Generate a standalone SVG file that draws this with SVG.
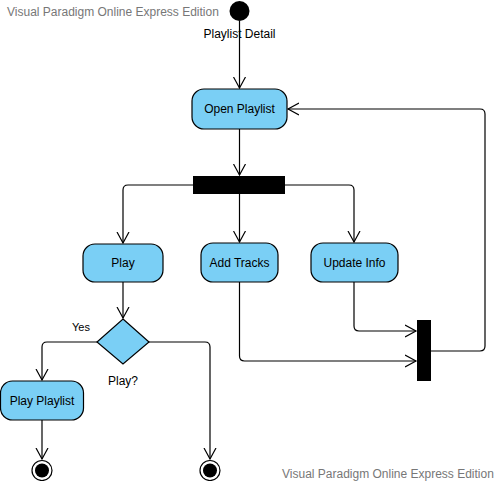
<svg xmlns="http://www.w3.org/2000/svg" width="499" height="481" viewBox="0 0 499 481">
<style>
.act{fill:#7ACFF5;stroke:#000;stroke-width:1.2}
.lbl{font-family:"Liberation Sans",Arial,sans-serif;font-size:12px;fill:#000;text-anchor:middle}
.wm{font-family:"Liberation Sans",Arial,sans-serif;font-size:12px;fill:#777}
.con{fill:none;stroke:#000;stroke-width:1.2}
.bar{fill:#000}
</style>
<defs>
<marker id="arr" markerUnits="userSpaceOnUse" markerWidth="14" markerHeight="14" refX="11" refY="6" orient="auto" viewBox="0 0 14 12">
<path d="M0,0 L11,6 L0,12" fill="none" stroke="#000" stroke-width="1.2"/>
</marker>
</defs>
<rect width="499" height="481" fill="#fff"/>
<text class="wm" x="7" y="16">Visual Paradigm Online Express Edition</text>
<text class="wm" x="282" y="478">Visual Paradigm Online Express Edition</text>
<g id="connectors">
<path class="con" d="M239.5,21 V88" marker-end="url(#arr)"/>
<path class="con" d="M239.5,129 V175" marker-end="url(#arr)"/>
<path class="con" d="M193,185 H128 Q123,185 123,190 V243" marker-end="url(#arr)"/>
<path class="con" d="M239.5,194 V242" marker-end="url(#arr)"/>
<path class="con" d="M285,185 H349 Q354,185 354,190 V242" marker-end="url(#arr)"/>
<path class="con" d="M354,282 V326 Q354,331 359,331 H416" marker-end="url(#arr)"/>
<path class="con" d="M239.5,282 V356 Q239.5,361 244.5,361 H416" marker-end="url(#arr)"/>
<path class="con" d="M431,351 H480 Q485,351 485,346 V114 Q485,109 480,109 H288" marker-end="url(#arr)"/>
<path class="con" d="M123,282 V318" marker-end="url(#arr)"/>
<path class="con" d="M97,342 H47 Q42,342 42,347 V380" marker-end="url(#arr)"/>
<path class="con" d="M149,342 H205 Q210,342 210,347 V459" marker-end="url(#arr)"/>
<path class="con" d="M42,420 V459" marker-end="url(#arr)"/>
</g>
<g id="start">
<circle cx="239.5" cy="11" r="10" fill="#000"/>
<text class="lbl" x="239.5" y="38">Playlist Detail</text>
</g>
<g id="open-playlist">
<rect class="act" x="192" y="89" width="95" height="40" rx="12"/>
<text class="lbl" x="239.5" y="113">Open Playlist</text>
</g>
<g id="fork">
<rect class="bar" x="193" y="176" width="92" height="18"/>
</g>
<g id="play">
<rect class="act" x="83" y="244" width="80" height="38" rx="12"/>
<text class="lbl" x="123" y="267">Play</text>
</g>
<g id="add-tracks">
<rect class="act" x="201" y="243" width="77" height="39" rx="12"/>
<text class="lbl" x="239.5" y="267">Add Tracks</text>
</g>
<g id="update-info">
<rect class="act" x="311" y="243" width="87" height="39" rx="12"/>
<text class="lbl" x="354.5" y="267">Update Info</text>
</g>
<g id="join">
<rect class="bar" x="417" y="320" width="14" height="61"/>
</g>
<g id="decision">
<polygon class="act" points="123,319 149,342 123,364 97,342"/>
<text class="lbl" x="123" y="385">Play?</text>
<text class="lbl" x="81" y="331" style="font-size:11px">Yes</text>
</g>
<g id="play-playlist">
<rect class="act" x="0.5" y="381" width="83" height="39" rx="12"/>
<text class="lbl" x="42" y="405">Play Playlist</text>
</g>
<g id="end1">
<circle cx="42" cy="470.5" r="10" fill="#fff" stroke="#000" stroke-width="1.2"/>
<circle cx="42" cy="470.5" r="7" fill="#000"/>
</g>
<g id="end2">
<circle cx="210" cy="470.5" r="10" fill="#fff" stroke="#000" stroke-width="1.2"/>
<circle cx="210" cy="470.5" r="7" fill="#000"/>
</g>
</svg>
